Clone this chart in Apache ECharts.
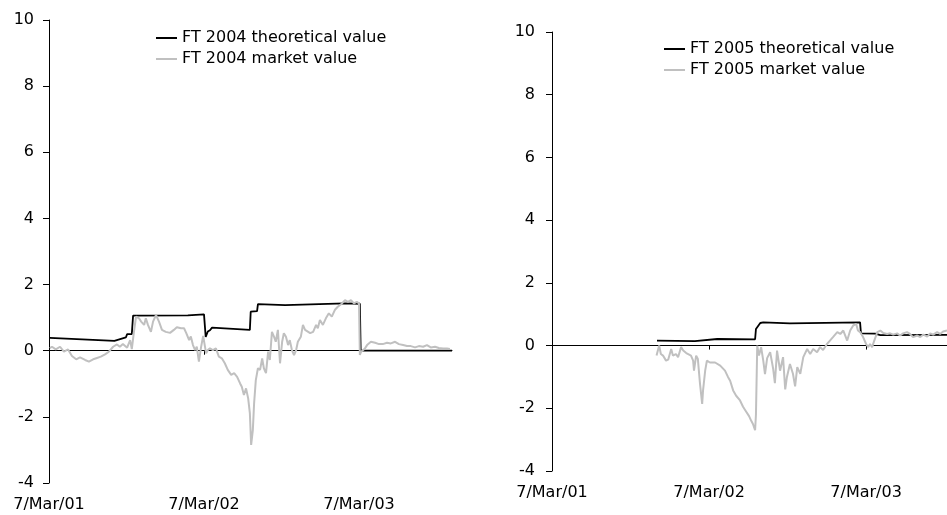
<!DOCTYPE html>
<html>
<head>
<meta charset="utf-8">
<script src="https://cdn.jsdelivr.net/npm/echarts@6.0.0/dist/echarts.min.js"></script>
<style>
  html, body { margin: 0; padding: 0; background: #fff; }
  #chart { width: 947px; height: 515px; }
</style>
</head>
<body>
<div id="chart"></div>
<script>
// x values are days since 7 March 2001
const xTickDays = [0, 365, 730];
const xTickLabels = ['7/Mar/01', '7/Mar/02', '7/Mar/03'];

const ft2004TheoDays = [2,154,156,181,184,195,198,327,330,365,369,374,379,384,473,475,490,492,556,697,732,734,949];
const ft2004TheoValues = [0.39,0.30,0.36,0.40,0.50,0.50,1.06,1.07,1.10,1.10,0.42,0.58,0.62,0.70,0.63,1.18,1.20,1.41,1.38,1.43,1.42,0,0];

const ft2004MktDays = [2,7,16,26,35,45,54,64,73,85,94,104,113,122,132,141,151,160,167,174,184,191,195,200,205,212,217,224,228,233,240,245,252,259,266,275,285,294,301,311,318,323,330,334,339,344,348,353,358,363,367,370,374,379,386,393,400,407,414,421,429,436,443,450,454,459,464,469,473,476,480,483,487,492,497,502,506,511,516,520,525,530,534,539,544,549,553,558,563,567,572,577,582,586,593,598,603,607,615,622,629,633,638,645,652,659,666,673,680,690,697,704,711,718,725,730,732,735,739,744,749,753,758,768,777,786,796,805,815,824,834,843,852,862,871,881,890,899,909,918,928,937,944];
const ft2004MktValues = [0.08,0.12,0.04,0.12,-0.03,0.04,-0.16,-0.26,-0.20,-0.28,-0.33,-0.26,-0.22,-0.18,-0.11,-0.03,0.12,0.19,0.12,0.20,0.09,0.32,0.05,0.57,1.03,0.98,0.88,0.78,0.98,0.78,0.57,0.88,1.08,0.88,0.63,0.57,0.54,0.63,0.71,0.68,0.68,0.54,0.32,0.43,0.17,0.02,0.12,-0.33,0.10,0.45,0.40,-0.08,0.02,0.07,0.02,0.07,-0.18,-0.23,-0.38,-0.58,-0.73,-0.68,-0.79,-0.99,-1.09,-1.34,-1.14,-1.44,-1.89,-2.85,-2.40,-1.59,-0.89,-0.53,-0.58,-0.23,-0.53,-0.68,-0.03,-0.28,0.57,0.42,0.27,0.63,-0.38,0.27,0.53,0.42,0.17,0.32,0.02,-0.13,0.02,0.27,0.42,0.78,0.63,0.68,0.53,0.57,0.78,0.68,0.93,0.78,0.98,1.13,1.03,1.23,1.33,1.43,1.53,1.48,1.53,1.43,1.48,1.43,-0.13,-0.03,0.02,0.07,0.17,0.20,0.27,0.24,0.20,0.20,0.24,0.22,0.27,0.20,0.17,0.14,0.14,0.10,0.14,0.12,0.17,0.10,0.12,0.08,0.07,0.07,0.05];

const ft2005TheoDays = [244,332,335,384,472,474,484,491,553,716,718,751,763,918];
const ft2005TheoValues = [0.16,0.14,0.18,0.21,0.20,0.53,0.72,0.74,0.71,0.74,0.39,0.38,0.33,0.34];

const ft2005MktDays = [243,249,253,258,265,270,277,281,288,293,300,305,312,316,323,328,330,335,339,344,349,351,356,360,367,379,391,402,409,414,421,428,437,444,451,458,463,467,472,474,477,481,486,491,495,500,507,514,518,523,530,537,542,546,553,560,565,570,577,584,593,600,607,616,623,630,639,646,653,663,670,677,686,693,700,707,711,716,723,730,735,739,744,749,756,763,770,779,786,793,802,809,816,825,832,839,849,856,863,872,879,886,895,902,909,918];
const ft2005MktValues = [-0.32,0.0,-0.27,-0.32,-0.48,-0.45,-0.11,-0.32,-0.27,-0.37,-0.05,-0.16,-0.24,-0.22,-0.32,-0.48,-0.80,-0.32,-0.43,-1.22,-1.86,-1.44,-0.80,-0.48,-0.54,-0.54,-0.64,-0.80,-1.0,-1.12,-1.43,-1.6,-1.75,-1.95,-2.1,-2.25,-2.4,-2.5,-2.7,-2.2,0.0,-0.32,-0.05,-0.48,-0.91,-0.4,-0.21,-0.74,-1.2,-0.16,-0.80,-0.37,-1.4,-1.0,-0.59,-0.9,-1.3,-0.69,-0.9,-0.37,-0.11,-0.27,-0.11,-0.21,-0.05,-0.14,0.05,0.16,0.27,0.43,0.37,0.48,0.16,0.48,0.64,0.69,0.48,0.43,0.27,0.05,-0.05,0.05,-0.05,0.16,0.43,0.48,0.40,0.37,0.39,0.35,0.39,0.32,0.39,0.43,0.37,0.27,0.32,0.27,0.35,0.29,0.39,0.35,0.43,0.37,0.45,0.48];

const names2004 = ['FT 2004 theoretical value', 'FT 2004 market value'];
const names2005 = ['FT 2005 theoretical value', 'FT 2005 market value'];

const FONT = 'DejaVu Sans';
const pairs = (d, v) => d.map((x, i) => [x, v[i]]);

function zeroXAxis(grid, max) {
  return {
    gridIndex: grid, type: 'value', min: 0, max: max,
    axisLine: { show: true, onZero: true, lineStyle: { color: '#000', width: 1 } },
    axisTick: { show: true, customValues: xTickDays, length: 4, lineStyle: { color: '#000', width: 1 } },
    axisLabel: { show: false },
    splitLine: { show: false }
  };
}
function labelXAxis(grid, max) {
  return {
    gridIndex: grid, type: 'value', min: 0, max: max, position: 'bottom',
    axisLine: { show: false, onZero: false },
    axisTick: { show: false },
    axisLabel: {
      show: true, customValues: xTickDays, margin: 14,
      fontFamily: FONT, fontSize: 16, color: '#000',
      formatter: (v) => { const i = xTickDays.indexOf(v); return i >= 0 ? xTickLabels[i] : ''; }
    },
    splitLine: { show: false }
  };
}
function yAx(grid, margin) {
  return {
    gridIndex: grid, type: 'value', min: -4, max: 10, interval: 2,
    axisLine: { show: true, onZero: false, lineStyle: { color: '#000', width: 1 } },
    axisTick: { show: true, length: 6, lineStyle: { color: '#000', width: 1 } },
    axisLabel: { margin: margin, fontFamily: FONT, fontSize: 16, color: '#000' },
    splitLine: { show: false }
  };
}
function lineSeries(name, xi, yi, data, color, width) {
  return {
    name: name, type: 'line', xAxisIndex: xi, yAxisIndex: yi,
    data: data, symbol: 'none', showSymbol: false, color: color,
    lineStyle: { color: color, width: width }, animation: false
  };
}
function legend(names, left, top) {
  return {
    data: names, orient: 'vertical', left: left, top: top, padding: 0,
    itemWidth: 21, itemHeight: 14, itemGap: 5,
    itemStyle: { opacity: 0, borderWidth: 0 },
    textStyle: { fontFamily: FONT, fontSize: 16, color: '#000' },
    selectedMode: false
  };
}

const chart = echarts.init(document.getElementById('chart'));
chart.setOption({
  animation: false,
  backgroundColor: '#fff',
  grid: [
    { left: 49, top: 20, width: 403, height: 463, outerBoundsMode: 'none' },
    { left: 552, top: 32, width: 395, height: 439, outerBoundsMode: 'none' }
  ],
  legend: [legend(names2004, 155, 30), legend(names2005, 663, 41)],
  xAxis: [zeroXAxis(0, 949), labelXAxis(0, 949), zeroXAxis(1, 918), labelXAxis(1, 918)],
  yAxis: [yAx(0, 15), yAx(1, 17)],
  series: [
    lineSeries(names2004[0], 0, 0, pairs(ft2004TheoDays, ft2004TheoValues), '#000', 1.8),
    lineSeries(names2004[1], 0, 0, pairs(ft2004MktDays, ft2004MktValues), '#c0c0c0', 2),
    lineSeries(names2005[0], 2, 1, pairs(ft2005TheoDays, ft2005TheoValues), '#000', 1.8),
    lineSeries(names2005[1], 2, 1, pairs(ft2005MktDays, ft2005MktValues), '#c0c0c0', 2)
  ]
});
</script>
</body>
</html>
